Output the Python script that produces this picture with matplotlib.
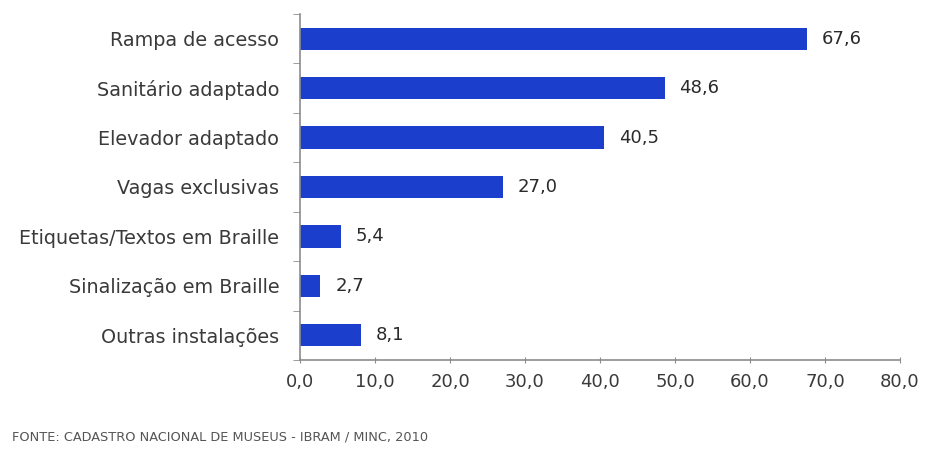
import matplotlib.pyplot as plt
import numpy as np

plt.rcParams['font.family'] = ['DejaVu Sans']

categorias = [
    "Rampa de acesso",
    "Sanitário adaptado",
    "Elevador adaptado",
    "Vagas exclusivas",
    "Etiquetas/Textos em Braille",
    "Sinalização em Braille",
    "Outras instalações",
]
percentuais = [67.6, 48.6, 40.5, 27.0, 5.4, 2.7, 8.1]
ticks_x = [0, 10, 20, 30, 40, 50, 60, 70, 80]

azul = "#1b3fcc"
cinza_texto = "#3a3a3a"
cinza_eixo = "#8c8c8c"

fig = plt.figure(figsize=(9.25, 4.51), dpi=100)
ax = fig.add_axes([300 / 925, 1 - 360 / 451, 600 / 925, 346 / 451])

y = np.arange(len(categorias))
ax.barh(y, percentuais, height=0.45, color=azul)

for yi, v in zip(y, percentuais):
    ax.text(v + 2.0, yi, f"{v:.1f}".replace(".", ","), va="center", ha="left",
            fontsize=13, color="#2a2a2a")

ax.set_xlim(0, 80)
ax.set_ylim(len(categorias) - 0.5, -0.5)
ax.set_xticks(ticks_x)
ax.set_xticklabels([f"{t:.1f}".replace(".", ",") for t in ticks_x],
                   fontsize=13, color=cinza_texto)

# rótulos das categorias sem marcas; marcas nas divisas entre barras
ax.set_yticks(y)
ax.set_yticklabels(categorias, fontsize=13.8, color=cinza_texto)
ax.tick_params(axis='y', length=0, pad=15)
ax.set_yticks(np.arange(len(categorias) + 1) - 0.5, minor=True)
ax.tick_params(axis='y', which='minor', length=5, color=cinza_eixo, direction='out')
ax.tick_params(axis='x', length=5, color=cinza_eixo, direction='inout', pad=7)

for lado in ['top', 'right']:
    ax.spines[lado].set_visible(False)
for lado in ['left', 'bottom']:
    ax.spines[lado].set_color(cinza_eixo)
    ax.spines[lado].set_linewidth(1.2)

fig.text(12 / 925, 1 - 437 / 451, "FONTE: CADASTRO NACIONAL DE MUSEUS - IBRAM / MINC, 2010",
         fontsize=9.3, color="#555555", va="center", ha="left")

fig.savefig("out.png", dpi=100)
